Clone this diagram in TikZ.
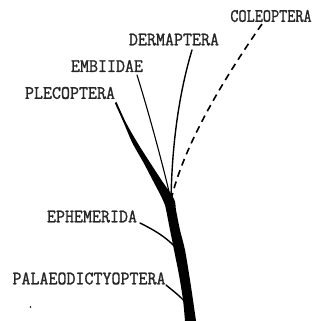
\documentclass[tikz,border=0pt]{standalone}
\usepackage{fontspec}
\newfontfamily\labelfont[FakeBold=1.2,FakeStretch=0.92]{Latin Modern Mono}
\newfontfamily\narrowlabelfont[FakeBold=1.2,FakeStretch=0.83]{Latin Modern Mono}
\begin{document}
\begin{tikzpicture}[x=1pt,y=-1pt,
  lbl/.style={font={\labelfont\fontsize{19}{19}\selectfont}, inner sep=0pt, text=black!85},
  narrowlbl/.style={lbl, font={\narrowlabelfont\fontsize{19}{19}\selectfont}},
  twig/.style={line width=1.4pt, line cap=round},
  thintwig/.style={line width=1.1pt, line cap=round},
  dashtwig/.style={line width=1.6pt, dash pattern=on 7pt off 5pt}]
\useasboundingbox (0,0) rectangle (322,321);
% labels
\node[narrowlbl] (cole) at (271,16) {COLEOPTERA};
\node[lbl] (derm) at (174,39.5) {DERMAPTERA};
\node[lbl] (embi) at (107,66) {EMBIIDAE};
\node[lbl] (plec) at (70,93) {PLECOPTERA};
\node[lbl] (ephe) at (92,216.5) {EPHEMERIDA};
\node[lbl] (pala) at (89,278.5) {PALAEODICTYOPTERA};
% branch points
\coordinate (coletop) at (262,24);
\coordinate (dermtop) at (192,50);
\coordinate (embitop) at (137,75);
\coordinate (ephestart) at (140,223);
\coordinate (palastart) at (166,285);
\coordinate (junction) at (171,200);
\coordinate (ephejoin) at (175,247);
\coordinate (palajoin) at (185,302);
% trunk and Plecoptera
\fill[black] plot[smooth] coordinates {(114.8,103) (123.8,123) (132.4,143) (143.7,163) (152.6,180) (161.5,197) (165,205) (170,230) (174,250) (179,275) (183,300) (185,321)}
  -- plot[smooth] coordinates {(196,321) (193,300) (190,280) (185,250) (180,230) (176,210) (174,199) (161.4,180) (150.3,163) (137.6,143) (126.2,123) (116.5,102)} -- cycle;
% other branches
\draw[thintwig] (embitop) .. controls (148,110) and (163,165) .. (junction);
\draw[twig] (dermtop) .. controls (180,90) and (172,140) .. (junction);
\draw[dashtwig] (coletop) .. controls (230,70) and (185,140) .. (junction);
% pointer lines
\draw[twig] (ephestart) .. controls (152,229) and (165,236) .. (ephejoin);
\draw[twig] (palastart) .. controls (172,290) and (180,296) .. (palajoin);
% speck
\fill (30.5,307) circle (0.8);
\end{tikzpicture}
\end{document}
